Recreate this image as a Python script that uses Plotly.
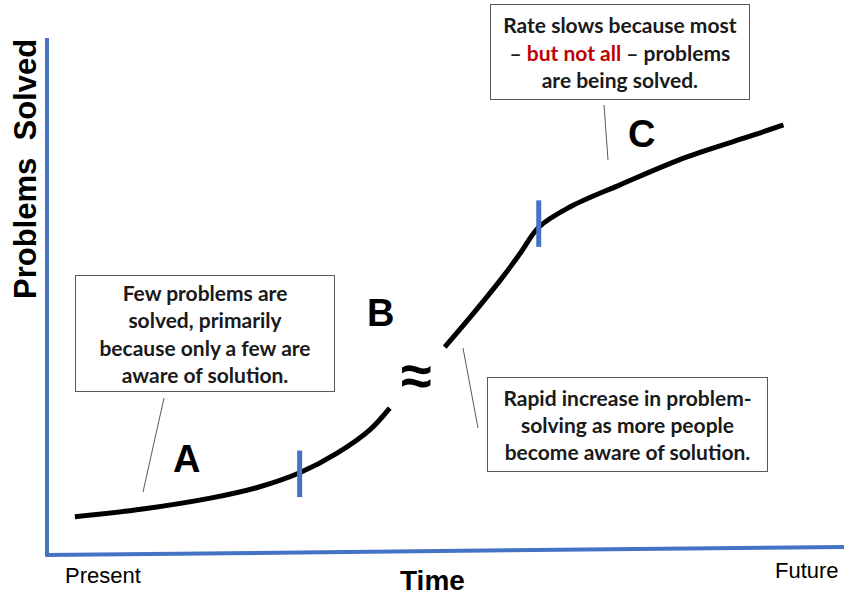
import plotly.graph_objects as go

# ---------------- data (time units 0-100, problems solved 0-100) ----------------
time_early = [3.5, 12.0, 20.5, 26.7, 31.7, 36.4, 40.5, 43.0]
solved_early = [7.4, 8.9, 11.0, 13.2, 15.9, 19.7, 24.2, 28.4]

time_late = [49.9, 53.1, 57.2, 59.4, 61.7, 65.6, 71.9, 80.3, 88.6, 92.4]
solved_late = [40.2, 46.0, 53.8, 58.4, 63.4, 67.3, 71.6, 77.0, 81.2, 83.2]

phase_time = [31.7, 61.7]
phase_solved = [15.7, 64.1]
phase_half = 4.5

x_tick_labels = ["Present", "Future"]
phase_labels = ["A", "B", "C"]

# pixel -> data helpers (for placing text)
PX_X0, PX_PER_X = 47, 7.97
PX_Y0, PX_PER_Y = 555, 5.17


def dx(px):
    return (px - PX_X0) / PX_PER_X


def dy(py):
    return (PX_Y0 - py) / PX_PER_Y


BLUE = "#4472C4"
fig = go.Figure()

fig.add_trace(go.Scatter(x=time_early, y=solved_early, mode="lines",
                         line=dict(color="black", width=5, shape="spline"),
                         hoverinfo="skip", showlegend=False))
fig.add_trace(go.Scatter(x=time_late, y=solved_late, mode="lines",
                         line=dict(color="black", width=5, shape="spline"),
                         hoverinfo="skip", showlegend=False))
for t, s in zip(phase_time, phase_solved):
    fig.add_trace(go.Scatter(x=[t, t], y=[s - phase_half, s + phase_half], mode="lines",
                             line=dict(color=BLUE, width=5),
                             hoverinfo="skip", showlegend=False))

shapes = [
    # axes
    dict(type="line", xref="x", yref="y", x0=0, y0=-0.3, x1=0, y1=100,
         line=dict(color=BLUE, width=4)),
    dict(type="line", xref="x", yref="y", x0=-0.2, y0=0, x1=dx(844), y1=dy(547),
         line=dict(color=BLUE, width=4)),
    # callout lines
    dict(type="line", xref="x", yref="y", x0=dx(164), y0=dy(398), x1=dx(143), y1=dy(492),
         line=dict(color="#595959", width=1)),
    dict(type="line", xref="x", yref="y", x0=dx(463), y0=dy(348), x1=dx(478), y1=dy(428),
         line=dict(color="#595959", width=1)),
    dict(type="line", xref="x", yref="y", x0=dx(604), y0=dy(105), x1=dx(608), y1=dy(160),
         line=dict(color="#595959", width=1)),
]

box_font = dict(family="Lato, Carlito, Calibri, sans-serif", size=21, color="#1a1a1a")
box_common = dict(xref="x", yref="y", showarrow=False, align="center", valign="middle",
                  bgcolor="white", bordercolor="#595959", borderwidth=1, borderpad=1,
                  font=box_font)

annotations = [
    dict(x=dx(205), y=dy(333.5), width=256, height=113,
         text="<b>Few problems are<br>solved, primarily<br>because only a few are<br>aware of solution.</b>",
         **box_common),
    dict(x=dx(620), y=dy(52), width=256, height=92,
         text="<b>Rate slows because most<br>– <span style='color:#C00000'>but not all</span> – problems<br>are being solved.</b>",
         **box_common),
    dict(x=dx(627.5), y=dy(424.5), width=277, height=91,
         text="<b>Rapid increase in problem-<br>solving as more people<br>become aware of solution.</b>",
         **box_common),
]

letter_font = dict(family="Liberation Sans, Arial, sans-serif", size=38, color="black")
for lab, (px, py) in zip(phase_labels, [(186, 459), (380, 313), (641, 134)]):
    annotations.append(dict(x=dx(px), y=dy(py), xref="x", yref="y", showarrow=False,
                            text=f"<b>{lab}</b>", font=letter_font))

annotations.append(dict(x=dx(416), y=dy(375), xref="x", yref="y", showarrow=False,
                        text="<b>≈</b>", font=dict(family="Liberation Sans, Arial, sans-serif", size=56, color="black")))

# axis titles
annotations.append(dict(x=dx(25), y=dy(169), xref="x", yref="y", showarrow=False, textangle=-90,
                        text="<b>Problems  Solved</b>",
                        font=dict(family="Liberation Sans, Arial, sans-serif", size=31, color="black")))
annotations.append(dict(x=dx(432), y=dy(580), xref="x", yref="y", showarrow=False,
                        text="<b>Time</b>",
                        font=dict(family="Liberation Sans, Arial, sans-serif", size=28, color="black")))
# end labels
for lab, (px, py) in zip(x_tick_labels, [(103, 575), (807, 570)]):
    annotations.append(dict(x=dx(px), y=dy(py), xref="x", yref="y", showarrow=False,
                            text=lab,
                            font=dict(family="Liberation Sans Narrow, Liberation Sans, Arial, sans-serif",
                                      size=22, color="black")))

fig.update_layout(
    width=844, height=596,
    margin=dict(l=0, r=0, t=0, b=0),
    paper_bgcolor="white", plot_bgcolor="white",
    xaxis=dict(range=[dx(0), dx(844)], visible=False, fixedrange=True),
    yaxis=dict(range=[dy(596), dy(0)], visible=False, fixedrange=True),
    shapes=shapes, annotations=annotations,
)

fig.write_html("out.html", config={"displayModeBar": False},
               post_script="document.body.style.margin='0';document.body.style.padding='0';"
                           "document.body.style.overflow='hidden';")
